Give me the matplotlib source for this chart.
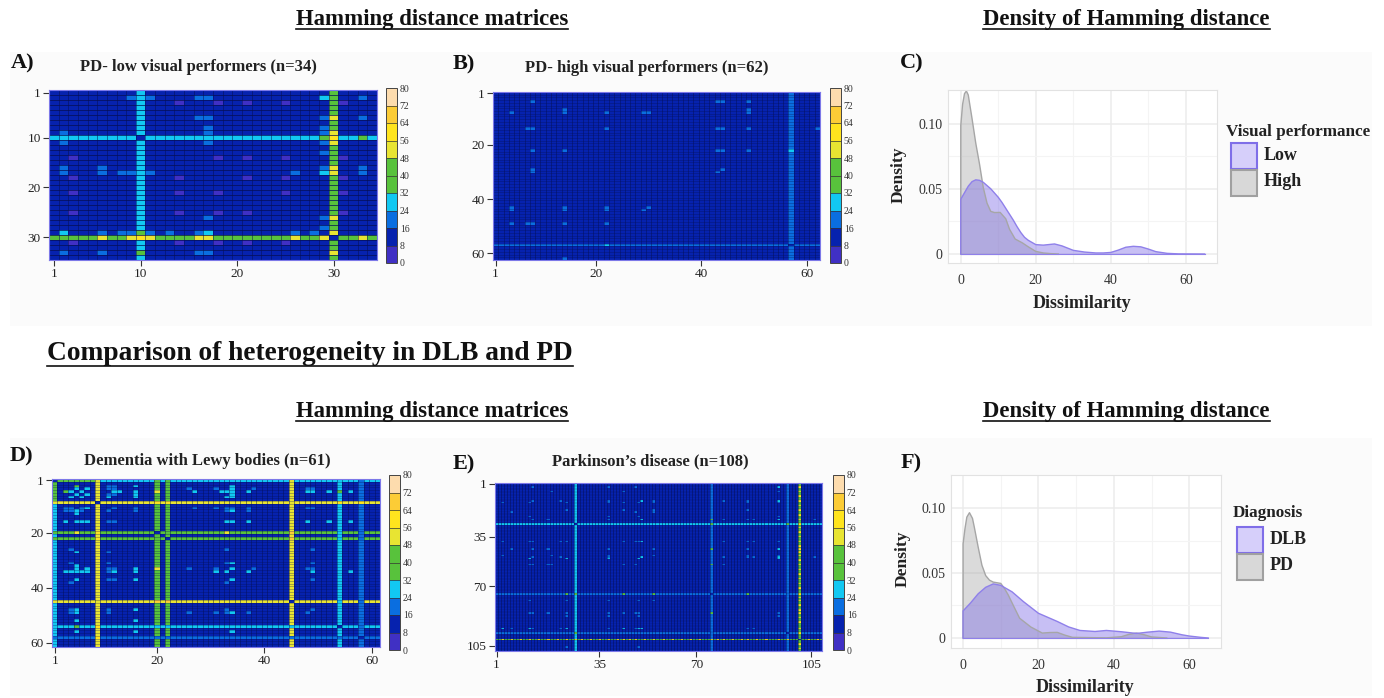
import numpy as np
import matplotlib
matplotlib.use('Agg')
import matplotlib.pyplot as plt
from matplotlib.colors import ListedColormap, BoundaryNorm
from matplotlib.patches import Rectangle
from matplotlib.lines import Line2D

plt.rcParams['font.family'] = ['Liberation Serif', 'DejaVu Serif']

W, H = 1384, 698

# colour scale of the matrices
scale_bounds = [0, 8, 16, 24, 32, 40, 48, 56, 64, 72, 80]
scale_colors = ['#4030c4', '#0622ae', '#0a6ee0', '#12c8f2', '#58c23c',
                '#58c23c', '#e8e432', '#ffe41e', '#fccc36', '#fddcae']

# panel A, low visual performers (subject, level of its row and column)
a_n = 34
a_lines = [(10, 28), (30, 44)]
a_low = [3, 14, 18, 21, 25, 31]
a_spots = [
    (29, [2, 17], 28),
    (29, [6, 8, 9, 11, 13, 16, 26, 28], 20),
    (2, [9, 11, 16, 17, 33], 20),
    (6, [16, 33], 20), (17, [6, 8, 9, 11, 26, 33], 20),
    (16, [33], 20), (6, [33], 20),
    (10, [29, 33], 42),
    (30, [6, 9, 11, 16, 17, 26, 29, 33], 52), (30, [10], 56),
]

# panel B, high visual performers
b_n = 62
b_lines = [(57, 18)]
b_low = []
b_spots = [
    (8, [4, 14, 22, 29, 49], 18),
    (14, [7, 8, 22, 43, 49, 62], 18),
    (22, [8, 14, 43, 49], 18),
    (4, [8, 43, 49], 18),
    (30, [8, 43], 18),
    (44, [4, 14, 22, 29], 18),
    (49, [4, 7, 8, 14, 22], 18),
    (57, [22], 30),
]

# panel D, dementia with Lewy bodies
d_n = 61
d_lines = [(1, 28), (9, 52), (20, 44), (22, 44), (45, 54), (54, 28), (58, 22)]
d_low = []
d_spots = [
    (5, [3, 4, 6, 12, 13, 16, 27, 32, 33, 34, 37, 48, 49, 52, 56], 26),
    (7, [4, 6, 11, 16, 33, 34], 26),
    (11, [3, 4, 6, 12, 16, 27, 31, 33, 34, 37, 48, 49], 22),
    (12, [3, 4, 6, 16, 33, 37], 22),
    (16, [3, 6, 33, 34, 37, 48, 52, 56], 26),
    (34, [3, 4, 6, 12, 31, 33, 37, 49, 56], 26),
    (31, [4, 33, 49], 20),
    (48, [4, 33, 49], 22),
    (49, [4, 33, 37], 22),
    (26, [4, 33, 49], 20),
    (38, [4, 33], 20),
    (20, [33, 5], 52),
    (45, [20, 22], 68),
    (9, [20, 22, 54, 58], 60),
    (5, [1, 3, 54], 42),
    (1, [2, 3, 4, 5, 6, 7, 8], 42),
]

# panel E, Parkinson's disease
e_n = 108
e_lines = [(27, 24), (72, 20), (97, 18), (101, 44)]
e_low = []
e_spots = [
    (13, [3, 12, 24, 38, 43, 48, 53, 84, 94], 22),
    (18, [24, 43, 53, 84], 20),
    (22, [12, 38, 48, 94], 20),
    (38, [3, 12, 24, 43, 48, 84, 94], 22),
    (47, [3, 19, 38, 53, 84, 94], 20),
    (49, [12, 24, 38, 48, 94], 24),
    (53, [12, 19, 43, 72], 20),
    (76, [12, 24, 38, 48, 53], 22),
    (84, [12, 24, 38, 43, 48, 94], 22),
    (86, [24, 38, 48, 94], 20),
    (94, [3, 12, 24, 43, 48], 24),
    (106, [24, 48], 18),
    (6, [19, 43, 94], 18),
    (101, [3, 6, 9, 12, 15, 18, 21, 24, 27, 29, 32, 35, 38, 41, 43, 45, 47, 50, 53, 56, 59, 62, 65, 68,
           72, 74, 76, 79, 82, 84, 87, 90, 94, 97, 104, 107], 60),
    (27, [72, 97], 42),
    (72, [24, 43, 53, 84], 40),
]

# density curves of panel C
c_low_x = [0, 1, 2, 3, 4, 5, 6, 8, 10, 11, 12, 14, 15, 16, 17, 18, 20, 22, 25, 27, 30, 33, 36, 38, 40, 42, 44, 46, 48, 50, 52, 55, 58, 65]
c_low_y = [.042, .047, .052, .0555, .0569, .0565, .055, .050, .0435, .0395, .035, .026, .021, .0165, .0128, .0105, .0072, .0068, .0077, .0062, .0028, .0015, .0008, .0008, .0012, .003, .0052, .0059, .0055, .0038, .0018, .0005, .0001, 0]
c_high_x = [0, .5, 1, 1.5, 2, 3, 4, 5, 6, 7, 8, 9, 10.5, 12, 13, 14.5, 16.5, 18, 20, 22, 24, 26]
c_high_y = [.0985, .115, .123, .125, .122, .104, .085, .069, .051, .039, .0327, .0318, .0319, .027, .019, .0115, .0084, .0055, .002, .0008, .0003, 0]

# density curves of panel F
f_dlb_x = [0, 2, 4, 6, 8, 10, 13, 16, 20, 25, 28, 31, 35, 38, 42, 46, 49, 52, 55, 58, 60, 63, 65]
f_dlb_y = [.0208, .027, .034, .039, .0416, .0405, .0355, .028, .019, .0127, .0085, .0058, .005, .0058, .0048, .0035, .0045, .0053, .0045, .0025, .0015, .0005, 0]
f_pd_x = [0, .5, 1, 1.7, 2.5, 3, 4, 5, 6, 7, 8, 10, 11, 12, 13.5, 15, 18, 21, 23, 25, 27, 29, 38, 42, 44, 46, 48, 50, 54]
f_pd_y = [.0723, .084, .093, .0964, .092, .085, .07, .056, .048, .0445, .043, .042, .038, .033, .024, .0152, .0084, .0038, .0042, .0043, .0022, .0005, .0001, .001, .0028, .0038, .0025, .0008, 0]


def px_axes(fig, x0, y0, x1, y1, **kw):
    return fig.add_axes([x0 / W, 1 - y1 / H, (x1 - x0) / W, (y1 - y0) / H], **kw)


def build_matrix(n, lines, low, spots):
    m = np.full((n, n), 11.0)
    for i in low:
        for j in low:
            m[i - 1, j - 1] = 7
    for s, level in lines:
        m[s - 1, :] = level
        m[:, s - 1] = level
    for s, others, v in spots:
        for o in others:
            m[s - 1, o - 1] = v
            m[o - 1, s - 1] = v
    np.fill_diagonal(m, 11)
    return m


def draw_matrix(box, cbar_box, n, lines, low, spots, xticks, xlabels, yticks, ylabels, lw, valpha, halpha):
    ax = px_axes(fig, *box)
    edges = np.arange(n + 1) + 0.5
    mesh = ax.pcolormesh(edges, edges, build_matrix(n, lines, low, spots), cmap=cmap, norm=norm,
                         linewidth=0, antialiased=False)
    # dark cell borders laid over the cells
    ax.vlines(edges, 0.5, n + 0.5, color='#050f55', linewidth=lw, alpha=valpha)
    ax.hlines(edges, 0.5, n + 0.5, color='#050f55', linewidth=lw, alpha=halpha)
    ax.set_xlim(0.5, n + 0.5)
    ax.set_ylim(n + 0.5, 0.5)
    ax.set_xticks(xticks, xlabels)
    ax.set_yticks(yticks, ylabels)
    ax.tick_params(length=4, width=0.8, labelsize=9.5, pad=2, color='#333333', labelcolor='#222222')
    for sp in ax.spines.values():
        sp.set_color('#7c78e8')
        sp.set_linewidth(0.8)
    cax = px_axes(fig, *cbar_box)
    cb = fig.colorbar(mesh, cax=cax, ticks=scale_bounds, spacing='proportional', drawedges=True)
    cb.dividers.set_color('#333333')
    cb.dividers.set_linewidth(0.5)
    cb.outline.set_edgecolor('#444444')
    cb.outline.set_linewidth(0.7)
    cax.tick_params(length=0, labelsize=7, pad=2, labelcolor='#333333')
    return ax


def draw_density(box, xlim, ylim, purple, gray):
    ax = px_axes(fig, *box)
    ax.set_xlim(*xlim)
    ax.set_ylim(*ylim)
    ax.set_xticks([0, 20, 40, 60])
    ax.set_xticks([10, 30, 50], minor=True)
    ax.set_yticks([0, 0.05, 0.10], ['0', '0.05', '0.10'])
    ax.set_yticks([0.025, 0.075], minor=True)
    ax.grid(which='major', color='#ececec', linewidth=1.1)
    ax.grid(which='minor', color='#f4f4f4', linewidth=0.8)
    ax.set_axisbelow(True)
    ax.tick_params(which='both', length=0, labelsize=10, labelcolor='#333333', pad=8)
    ax.tick_params(axis='y', pad=4)
    for sp in ax.spines.values():
        sp.set_color('#e2e2e2')
    for (x, y), fc, ec in [(gray, '#a8a8a8', '#a6a6a6'), (purple, '#7a68e6', '#8f80ea')]:
        ax.fill_between(x, 0, y, facecolor=fc, alpha=0.42, linewidth=0)
        ax.plot([x[0]] + list(x), [0] + list(y), color=ec, linewidth=1)
        ax.plot(x, np.zeros(len(x)), color=ec, linewidth=0.8)
    return ax


def heading(x, y, s, size):
    t = over.text(x, y, s, fontsize=size, fontweight='bold', va='center', ha='left', color='#111111')
    bb = t.get_window_extent(fig.canvas.get_renderer())
    over.add_line(Line2D([bb.x0, bb.x1], [y + size * 0.6] * 2, color='#111111', linewidth=1.2))


cmap = ListedColormap(scale_colors)
norm = BoundaryNorm(scale_bounds, cmap.N)

fig = plt.figure(figsize=(W / 100, H / 100), dpi=100)

# overlay in picture pixels for headings, labels and legends
over = fig.add_axes([0, 0, 1, 1], zorder=-1)
over.set_xlim(0, W)
over.set_ylim(H, 0)
over.axis('off')
over.add_patch(Rectangle((10, 52), 1362, 274, facecolor='#fbfbfb', edgecolor='none'))
over.add_patch(Rectangle((10, 438), 1362, 258, facecolor='#fbfbfb', edgecolor='none'))

heading(296, 19, 'Hamming distance matrices', 16.4)
heading(983, 19, 'Density of Hamming distance', 16.4)
heading(296, 411, 'Hamming distance matrices', 16.4)
heading(983, 411, 'Density of Hamming distance', 16.4)
heading(47, 354, 'Comparison of heterogeneity in DLB and PD', 19.7)

panel_labels = [('A)', 11, 63), ('B)', 453, 64), ('C)', 900, 63), ('D)', 10, 456), ('E)', 453, 464), ('F)', 901, 463)]
for s, x, y in panel_labels:
    over.text(x, y, s, fontsize=16, fontweight='bold', va='center', color='#111111')

panel_titles = [('PD- low visual performers (n=34)', 198, 67), ('PD- high visual performers (n=62)', 647, 68),
                ('Dementia with Lewy bodies (n=61)', 207, 461), ("Parkinson\u2019s disease (n=108)", 650, 461)]
for s, x, y in panel_titles:
    over.text(x, y, s, fontsize=12, fontweight='bold', va='center', ha='center', color='#222222')

draw_matrix((49, 90, 377, 260), (386, 88, 397, 263), a_n, a_lines, a_low, a_spots,
            [1, 10, 20, 30], ['1', '10', '20', '30'], [1, 10, 20, 30], ['1', '10', '20', '30'], 0.6, 0.6, 0.85)
draw_matrix((493, 92, 820, 260), (830, 88, 841, 263), b_n, b_lines, b_low, b_spots,
            [1, 20, 40, 60], ['1', '20', '40', '60'], [1, 20, 40, 60], ['1', '20', '40', '60'], 0.6, 0.55, 0.35)
draw_matrix((52, 479, 380, 647), (389, 475, 400, 650), d_n, d_lines, d_low, d_spots,
            [1, 20, 40, 60], ['1', '20', '40', '60'], [1, 20, 40, 60], ['1', '20', '40', '60'], 0.6, 0.55, 0.35)
draw_matrix((495, 483, 822, 651), (833, 475, 844, 650), e_n, e_lines, e_low, e_spots,
            [1, 35, 67, 105], ['1', '35', '70', '105'], [1, 35, 67, 105], ['1', '35', '70', '105'], 0.6, 0.6, 0.15)

draw_density((948, 90, 1217, 263), (-3.4, 68.3), (-0.0069, 0.1258), (c_low_x, c_low_y), (c_high_x, c_high_y))
draw_density((951, 475, 1221, 648), (-3.2, 68.4), (-0.0077, 0.1254), (f_dlb_x, f_dlb_y), (f_pd_x, f_pd_y))

for x, y, s in [(899, 175, 'Density'), (903, 559, 'Density')]:
    over.text(x, y, s, fontsize=12.6, fontweight='bold', rotation=90, ha='center', va='center', color='#222222')
for x, y, s in [(1082, 304, 'Dissimilarity'), (1085, 688, 'Dissimilarity')]:
    over.text(x, y, s, fontsize=12.9, fontweight='bold', ha='center', va='center', color='#222222')

# legends of the density panels
legends = [('Visual performance', 1226, 132, 1231, 143, ['Low', 'High']),
           ('Diagnosis', 1233, 513, 1237, 527, ['DLB', 'PD'])]
for title, tx, ty, bx, by, names in legends:
    over.text(tx, ty, title, fontsize=12.3, fontweight='bold', va='center', color='#222222')
    for k, (name, fc, ec) in enumerate(zip(names, ['#d6cffa', '#d8d8d8'], ['#7f6ee8', '#a0a0a0'])):
        over.add_patch(Rectangle((bx, by + k * 27), 26, 26, facecolor=fc, edgecolor=ec, linewidth=1.5))
        over.text(bx + 33, by + 13 + k * 25, name, fontsize=13, fontweight='bold', va='center', color='#222222')

fig.savefig('out.png', dpi=100)
